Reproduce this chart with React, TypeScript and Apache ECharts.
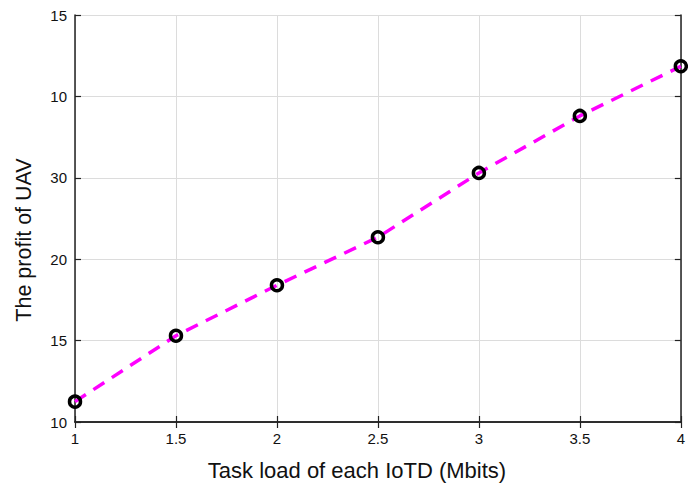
import React, { useEffect, useRef } from "react";
import * as echarts from "echarts";

const xTicks = [1, 1.5, 2, 2.5, 3, 3.5, 4];
const yTickLabels = ["10", "15", "20", "30", "10", "15"];
const taskLoad = [1, 1.5, 2, 2.5, 3, 3.5, 4];
// values in tick-position units (0 = first tick label, 5 = last)
const profit = [0.25, 1.06, 1.68, 2.27, 3.06, 3.76, 4.37];
const xTitle = "Task load of each IoTD (Mbits)";
const yTitle = "The profit of UAV";

export default function App() {
  const ref = useRef<HTMLDivElement>(null);
  useEffect(() => {
    document.body.style.margin = "0";
    document.body.style.overflow = "hidden";
    document.documentElement.style.overflow = "hidden";
    const chart = echarts.init(ref.current!, null, { renderer: "svg", width: 688, height: 484 });
    const font = "'Liberation Sans', Arial, Helvetica, sans-serif";
    const axisCommon = {
      axisLine: { show: true, lineStyle: { color: "#222", width: 1.5 } },
      axisTick: { show: true, inside: true, length: 6, lineStyle: { color: "#222", width: 1.2 } },
    };
    chart.setOption({
      animation: false,
      backgroundColor: "#fff",
      grid: { left: 75, right: 4, top: 15, bottom: 62, containLabel: false },
      graphic: [
        {
          type: "text",
          x: 24,
          y: 240,
          rotation: Math.PI / 2,
          style: {
            text: yTitle,
            fill: "#111",
            font: `21.5px ${font}`,
            align: "center",
            verticalAlign: "middle",
          },
        },
        {
          type: "text",
          x: 357,
          y: 470,
          style: {
            text: xTitle,
            fill: "#111",
            font: `22px ${font}`,
            align: "center",
            verticalAlign: "middle",
          },
        },
      ],
      xAxis: [
        {
          type: "value",
          min: 1,
          max: 4,
          interval: 0.5,
          ...axisCommon,
          axisLabel: {
            color: "#111",
            fontFamily: font,
            fontSize: 15,
            margin: 9,
            formatter: (v: number) => (xTicks.includes(v) ? String(v) : ""),
          },
          splitLine: { show: true, lineStyle: { color: "#dcdcdc", width: 1 } },
        },
        {
          type: "value",
          position: "top",
          min: 1,
          max: 4,
          interval: 0.5,
          ...axisCommon,
          axisLabel: { show: false },
          splitLine: { show: false },
        },
      ],
      yAxis: [
        {
          type: "value",
          min: 0,
          max: 5,
          interval: 1,
          ...axisCommon,
          axisLabel: {
            color: "#111",
            fontFamily: font,
            fontSize: 15,
            margin: 8,
            formatter: (v: number) => yTickLabels[Math.round(v)] ?? "",
          },
          splitLine: { show: true, lineStyle: { color: "#dcdcdc", width: 1 } },
        },
        {
          type: "value",
          position: "right",
          min: 0,
          max: 5,
          interval: 1,
          ...axisCommon,
          axisLabel: { show: false },
          splitLine: { show: false },
        },
      ],
      series: [
        {
          type: "line",
          data: taskLoad.map((x, i) => [x, profit[i]]),
          lineStyle: { color: "#ff00ff", width: 3.5, type: [13, 9] },
          symbol: "none",
          z: 2,
        },
        {
          type: "scatter",
          data: taskLoad.map((x, i) => [x, profit[i]]),
          symbol: "circle",
          symbolSize: 11,
          itemStyle: { color: "rgba(0,0,0,0)", borderColor: "#000", borderWidth: 3.5, opacity: 1 },
          z: 3,
        },
      ],
    });
    return () => chart.dispose();
  }, []);
  return (
    <div
      ref={ref}
      style={{ position: "absolute", left: 0, top: 0, width: 688, height: 484 }}
    />
  );
}
